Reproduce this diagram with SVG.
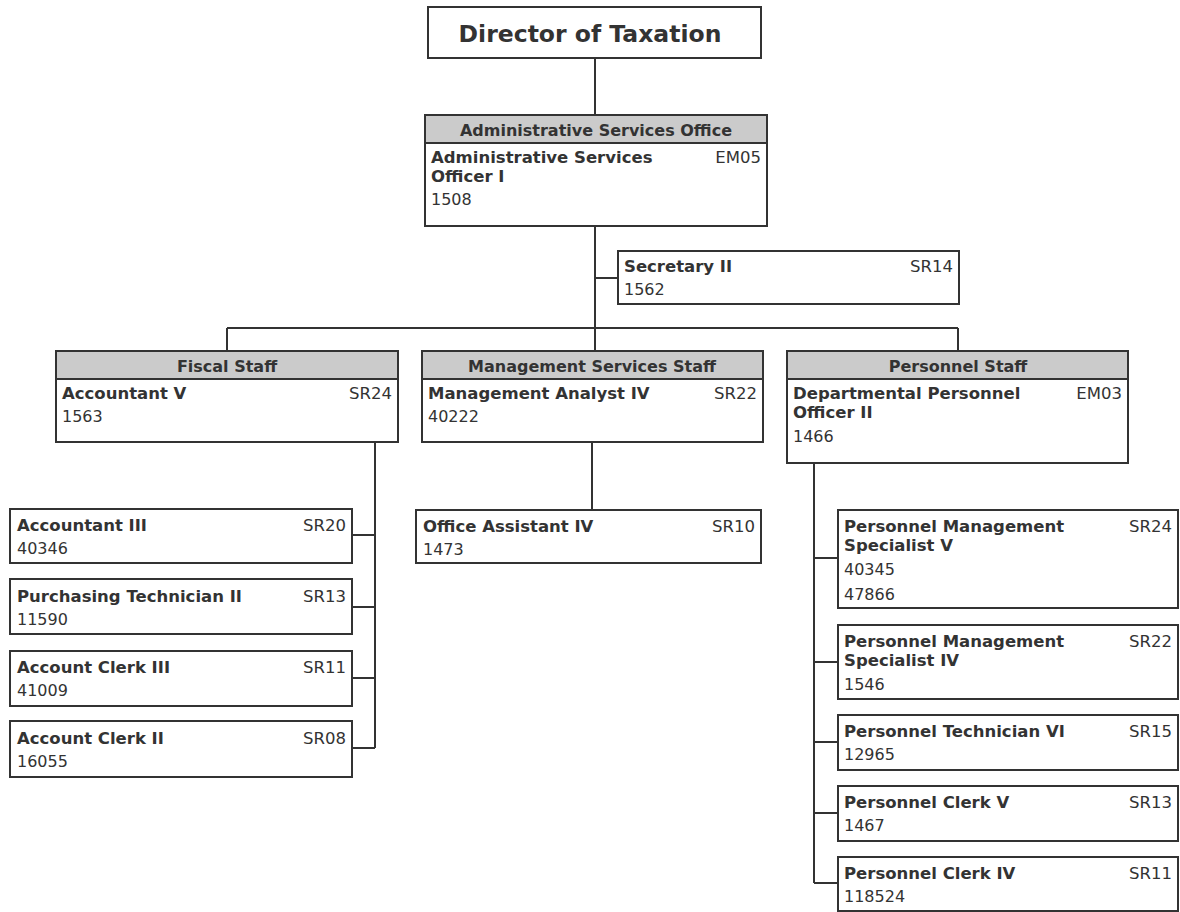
<svg xmlns="http://www.w3.org/2000/svg" width="1180" height="912" viewBox="0 0 1180 912">
<style>
.box{fill:#fff;stroke:#333;stroke-width:2}
.hdr{fill:#cbcbcb;stroke:#333;stroke-width:2}
.t{font-family:"DejaVu Sans",Verdana,sans-serif;font-size:16.5px;fill:#333;font-weight:bold}
.n{font-family:"DejaVu Sans",Verdana,sans-serif;font-size:16px;fill:#333}
.h{font-family:"DejaVu Sans",Verdana,sans-serif;font-size:16px;fill:#333;font-weight:bold;text-anchor:middle}
.g{font-family:"DejaVu Sans",Verdana,sans-serif;font-size:16.5px;fill:#333;text-anchor:end}
.c{fill:none;stroke:#333;stroke-width:2}
</style>
<rect width="1180" height="912" fill="#fff"/>
<g id="connectors">
<path class="c" d="M595 58V115M595 226V328M595 278H618M227 328H958M227 328V351M595 328V351M958 328V351"/>
<path class="c" d="M375 442V748M352 535H375M352 607H375M352 678H375M352 748H375"/>
<path class="c" d="M592 442V510"/>
<path class="c" d="M814 463V883M814 558H838M814 662H838M814 742H838M814 813H838M814 883H838"/>
</g>
<g id="director">
<rect class="box" x="428" y="7" width="333" height="51"/>
<text x="590" y="42" font-family="DejaVu Sans,Verdana,sans-serif" font-size="23.5" font-weight="bold" fill="#333" text-anchor="middle">Director of Taxation</text>
</g>
<g id="admin">
<rect class="box" x="425" y="115" width="342" height="111"/>
<rect class="hdr" x="425" y="115" width="342" height="28"/>
<text class="h" x="596" y="136">Administrative Services Office</text>
<text class="t" x="431" y="163">Administrative Services</text>
<text class="t" x="431" y="182">Officer I</text>
<text class="g" x="761" y="163">EM05</text>
<text class="n" x="431" y="205">1508</text>
</g>
<g id="secretary">
<rect class="box" x="618" y="251" width="341" height="53"/>
<text class="t" x="624" y="272">Secretary II</text>
<text class="g" x="953" y="272">SR14</text>
<text class="n" x="624" y="295">1562</text>
</g>
<g id="fiscal">
<rect class="box" x="56" y="351" width="342" height="91"/>
<rect class="hdr" x="56" y="351" width="342" height="28"/>
<text class="h" x="227" y="372">Fiscal Staff</text>
<text class="t" x="62" y="399">Accountant V</text>
<text class="g" x="392" y="399">SR24</text>
<text class="n" x="62" y="422">1563</text>
</g>
<g id="mgmt">
<rect class="box" x="422" y="351" width="341" height="91"/>
<rect class="hdr" x="422" y="351" width="341" height="28"/>
<text class="h" x="592" y="372">Management Services Staff</text>
<text class="t" x="428" y="399">Management Analyst IV</text>
<text class="g" x="757" y="399">SR22</text>
<text class="n" x="428" y="422">40222</text>
</g>
<g id="personnel">
<rect class="box" x="787" y="351" width="341" height="112"/>
<rect class="hdr" x="787" y="351" width="341" height="28"/>
<text class="h" x="958" y="372">Personnel Staff</text>
<text class="t" x="793" y="399">Departmental Personnel</text>
<text class="t" x="793" y="418">Officer II</text>
<text class="g" x="1122" y="399">EM03</text>
<text class="n" x="793" y="442">1466</text>
</g>
<g id="accountant3">
<rect class="box" x="10" y="509" width="342" height="54"/>
<text class="t" x="17" y="531">Accountant III</text>
<text class="g" x="346" y="531">SR20</text>
<text class="n" x="17" y="554">40346</text>
</g>
<g id="purchasing">
<rect class="box" x="10" y="579" width="342" height="55"/>
<text class="t" x="17" y="602">Purchasing Technician II</text>
<text class="g" x="346" y="602">SR13</text>
<text class="n" x="17" y="625">11590</text>
</g>
<g id="acctclerk3">
<rect class="box" x="10" y="651" width="342" height="55"/>
<text class="t" x="17" y="673">Account Clerk III</text>
<text class="g" x="346" y="673">SR11</text>
<text class="n" x="17" y="696">41009</text>
</g>
<g id="acctclerk2">
<rect class="box" x="10" y="721" width="342" height="56"/>
<text class="t" x="17" y="744">Account Clerk II</text>
<text class="g" x="346" y="744">SR08</text>
<text class="n" x="17" y="767">16055</text>
</g>
<g id="officeasst">
<rect class="box" x="416" y="510" width="345" height="53"/>
<text class="t" x="423" y="532">Office Assistant IV</text>
<text class="g" x="755" y="532">SR10</text>
<text class="n" x="423" y="555">1473</text>
</g>
<g id="pms5">
<rect class="box" x="838" y="510" width="340" height="98"/>
<text class="t" x="844" y="532">Personnel Management</text>
<text class="t" x="844" y="551">Specialist V</text>
<text class="g" x="1172" y="532">SR24</text>
<text class="n" x="844" y="575">40345</text>
<text class="n" x="844" y="600">47866</text>
</g>
<g id="pms4">
<rect class="box" x="838" y="625" width="340" height="74"/>
<text class="t" x="844" y="647">Personnel Management</text>
<text class="t" x="844" y="666">Specialist IV</text>
<text class="g" x="1172" y="647">SR22</text>
<text class="n" x="844" y="690">1546</text>
</g>
<g id="pertech6">
<rect class="box" x="838" y="715" width="340" height="55"/>
<text class="t" x="844" y="737">Personnel Technician VI</text>
<text class="g" x="1172" y="737">SR15</text>
<text class="n" x="844" y="760">12965</text>
</g>
<g id="perclerk5">
<rect class="box" x="838" y="786" width="340" height="55"/>
<text class="t" x="844" y="808">Personnel Clerk V</text>
<text class="g" x="1172" y="808">SR13</text>
<text class="n" x="844" y="831">1467</text>
</g>
<g id="perclerk4">
<rect class="box" x="838" y="857" width="340" height="54"/>
<text class="t" x="844" y="879">Personnel Clerk IV</text>
<text class="g" x="1172" y="879">SR11</text>
<text class="n" x="844" y="902">118524</text>
</g>
</svg>
